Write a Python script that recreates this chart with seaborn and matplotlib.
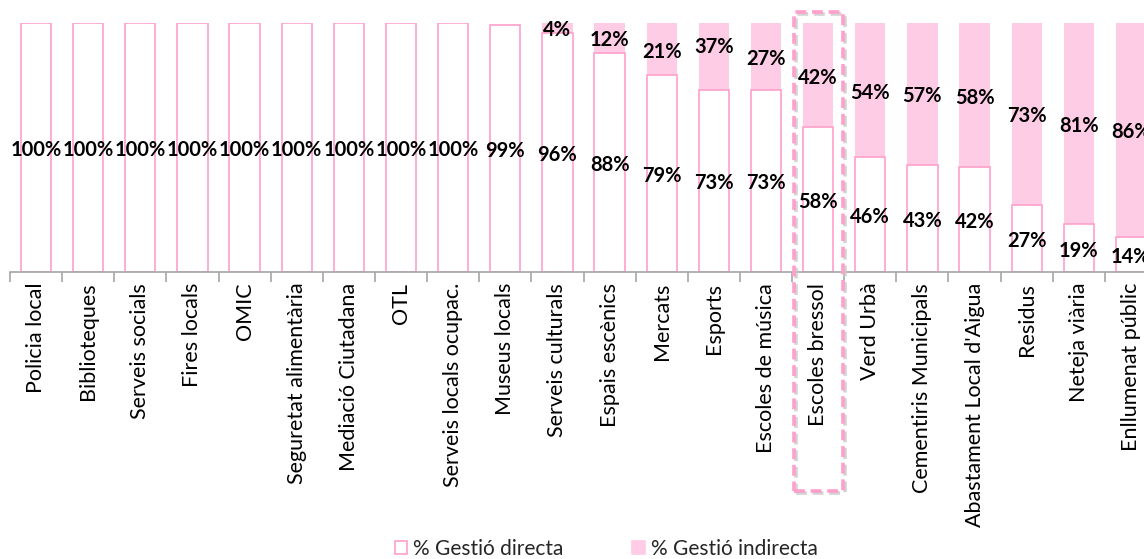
import matplotlib
matplotlib.use("Agg")
import matplotlib.pyplot as plt
import matplotlib.transforms as mtransforms
from matplotlib.patches import Patch, Rectangle
import seaborn as sns
import pandas as pd

serveis = [
    "Policia local", "Biblioteques", "Serveis socials", "Fires locals", "OMIC",
    "Seguretat alimentària", "Mediació Ciutadana", "OTL", "Serveis locals ocupac.",
    "Museus locals", "Serveis culturals", "Espais escènics", "Mercats", "Esports",
    "Escoles de música", "Escoles bressol", "Verd Urbà", "Cementiris Municipals",
    "Abastament Local d'Aigua", "Residus", "Neteja viària", "Enllumenat públic",
]
gestio_directa = [100, 100, 100, 100, 100, 100, 100, 100, 100, 99, 96, 88, 79, 73,
                  73, 58, 46, 43, 42, 27, 19, 14]
gestio_indirecta = [0, 0, 0, 0, 0, 0, 0, 0, 0, 0, 4, 12, 21, 37,
                    27, 42, 54, 57, 58, 73, 81, 86]
destacat = "Escoles bressol"

PINK_FILL = "#FFCCE5"
PINK_EDGE = "#FF9FCB"
FONT = ["Lato", "DejaVu Sans"]

df = pd.DataFrame({"servei": serveis, "directa": gestio_directa,
                   "indirecta": gestio_indirecta})
df["total"] = df["directa"] + df["indirecta"]

sns.set_theme(style="white")
plt.rcParams["font.family"] = FONT

fig = plt.figure(figsize=(11.44, 5.59), dpi=100)
ax = fig.add_axes([10 / 1144, 1 - 271.7 / 559, 1147 / 1144, 248.7 / 559])

# stacked bars: full (directa + indirecta) in pink, directa drawn on top in white
sns.barplot(data=df, x="servei", y="total", color=PINK_FILL, saturation=1,
            width=0.58, linewidth=0, ax=ax)
sns.barplot(data=df, x="servei", y="directa", color="white", saturation=1,
            width=0.58, edgecolor=PINK_EDGE, linewidth=1.2, ax=ax)

ax.set_ylim(0, 100)
ax.set_xlim(-0.5, len(serveis) - 0.5)
ax.set_xlabel("")
ax.set_ylabel("")
ax.set_yticks([])
for side in ["left", "right", "top"]:
    ax.spines[side].set_visible(False)
ax.spines["bottom"].set_color("#A6A6A6")
ax.spines["bottom"].set_linewidth(1.2)

# category boundaries as tick marks, names centred under the bars
ax.set_xticks(range(len(serveis)))
ax.set_xticklabels(serveis, rotation=90, fontsize=15.5, color="black")
ax.set_xticks([i - 0.5 for i in range(len(serveis) + 1)], minor=True)
ax.tick_params(axis="x", which="major", length=0, pad=8)
ax.tick_params(axis="x", which="minor", length=7, width=1.2, color="#A6A6A6",
               direction="out", bottom=True)

# value labels in the middle of each segment
for i, (d, ind) in enumerate(zip(gestio_directa, gestio_indirecta)):
    ax.text(i, d / 2 - 1, f"{d}%", ha="center", va="center", fontsize=14.5,
            fontweight="bold", color="black")
    if ind > 0:
        ax.text(i, d + ind / 2 - 1, f"{ind}%", ha="center", va="center",
                fontsize=14.5, fontweight="bold", color="black", clip_on=False)

# highlight box around one service, with a soft grey shadow behind it
k = serveis.index(destacat)
box_kw = dict(xy=(k - 0.47, -0.882), width=0.94, height=1.926, fill=False,
              linewidth=2.6, linestyle=(0, (3, 1.6)), clip_on=False)
shadow_tr = mtransforms.offset_copy(ax.get_xaxis_transform(), fig=fig,
                                    x=1.5, y=-1.5, units="points")
ax.add_patch(Rectangle(transform=shadow_tr, edgecolor="#C8C8C8", alpha=0.8,
                       zorder=4, **box_kw))
ax.add_patch(Rectangle(transform=ax.get_xaxis_transform(), edgecolor=PINK_EDGE,
                       zorder=5, **box_kw))

handles = [Patch(facecolor="white", edgecolor=PINK_EDGE, linewidth=1.2),
           Patch(facecolor=PINK_FILL, edgecolor=PINK_FILL, linewidth=1.2)]
fig.legend(handles, ["% Gestió directa", "% Gestió indirecta"],
           loc="center", bbox_to_anchor=(0.53, 1 - 549 / 559), ncol=2,
           frameon=False, fontsize=15, handlelength=0.6, handleheight=0.6,
           handletextpad=0.3, columnspacing=3.3)

fig.savefig("out.png", dpi=100)
